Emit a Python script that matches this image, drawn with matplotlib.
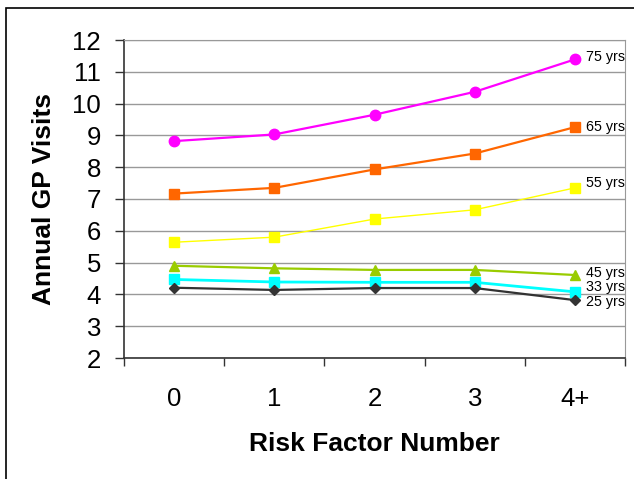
import matplotlib.pyplot as plt
from matplotlib.patches import Rectangle

plt.rcParams['font.family'] = ['Liberation Sans', 'DejaVu Sans']

categories = ['0', '1', '2', '3', '4+']
series_names = ['75 yrs', '65 yrs', '55 yrs', '45 yrs', '33 yrs', '25 yrs']
visits_75 = [8.82, 9.03, 9.65, 10.37, 11.39]
visits_65 = [7.17, 7.35, 7.93, 8.43, 9.26]
visits_55 = [5.64, 5.80, 6.37, 6.66, 7.35]
visits_45 = [4.90, 4.82, 4.77, 4.77, 4.61]
visits_33 = [4.47, 4.39, 4.38, 4.38, 4.08]
visits_25 = [4.21, 4.14, 4.20, 4.20, 3.82]
label_y = [11.47, 9.26, 7.50, 4.67, 4.23, 3.76]

colors = ['#FF00FF', '#FF6600', '#FFFF00', '#99CC00', '#00FFFF', '#333333']
markers = ['o', 's', 's', '^', 's', 'D']
msizes = [7.5, 7, 7, 7.5, 7, 5.5]
lwidths = [1.6, 1.6, 1.0, 1.6, 2.0, 1.6]

fig = plt.figure(figsize=(6.34, 4.79), dpi=100)
ax = fig.add_axes([124/634, 1-358/479, (625-124)/634, (358-40)/479])

x = list(range(len(categories)))
all_series = [visits_75, visits_65, visits_55, visits_45, visits_33, visits_25]
for vals, c, m, ms, lw in zip(all_series, colors, markers, msizes, lwidths):
    ax.plot(x, vals, color=c, marker=m, markersize=ms, linewidth=lw, zorder=3)

for name, ly in zip(series_names, label_y):
    ax.text(4.11, ly, name, fontsize=10.3, ha='left', va='center', zorder=4)

ax.set_xlim(-0.5, 4.5)
ax.set_ylim(2, 12)
ax.set_yticks(range(2, 13))
ax.set_xticks(x)
ax.set_xticklabels(categories)
ax.set_xticks([i - 0.5 for i in range(len(categories) + 1)], minor=True)
ax.tick_params(axis='x', which='major', length=0, labelsize=18.5, pad=21)
ax.tick_params(axis='x', which='minor', length=6, width=1, color='#333333', direction='out')
ax.tick_params(axis='y', length=6.5, width=1, color='#333333', labelsize=18.5, pad=10)

ax.grid(axis='y', color='#999999', linewidth=1)
ax.set_axisbelow(True)
for s in ['top', 'right']:
    ax.spines[s].set_color('#999999')
for s in ['left', 'bottom']:
    ax.spines[s].set_color('#333333')
    ax.spines[s].set_linewidth(1.2)

ax.set_xlabel('Risk Factor Number', fontsize=19, fontweight='bold')
ax.set_ylabel('Annual GP Visits', fontsize=19, fontweight='bold')
ax.xaxis.set_label_coords(0.5, (358 - 432) / 318)
ax.yaxis.set_label_coords((56 - 124) / 501, 0.5)

fig.patches.append(Rectangle((6/634, -0.1), 1.2, 1 - 8/479 + 0.1, transform=fig.transFigure,
                             fill=False, edgecolor='black', linewidth=1.2))

fig.savefig('out.png', dpi=100)
